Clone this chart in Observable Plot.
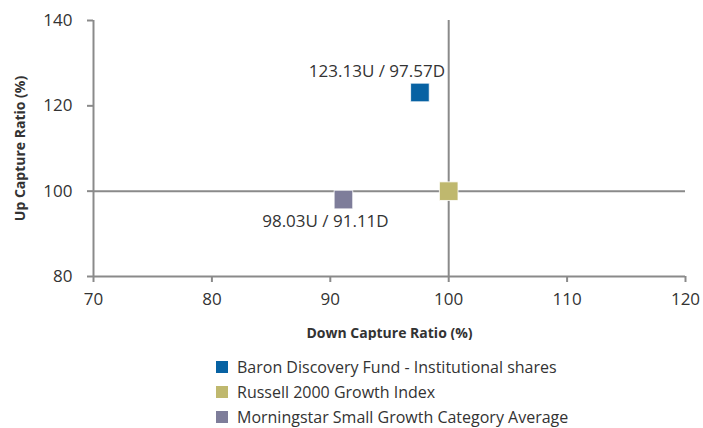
<!DOCTYPE html>
<html>
<head>
<meta charset="utf-8">
<script src="https://cdn.jsdelivr.net/npm/d3@7"></script>
<script src="https://cdn.jsdelivr.net/npm/@observablehq/plot@0.6"></script>
<style>
  body { margin: 0; background: #fff; font-family: "Open Sans", sans-serif; }
  #legend { margin-left: 216px; margin-top: 14px; font-size: 16px; color: #333; }
  #legend .row { display: flex; align-items: center; height: 25px; }
  #legend .sw { width: 12px; height: 12px; margin-right: 9px; }
</style>
</head>
<body>
<div id="chart"></div>
<div id="legend"></div>
<script>
const series = ["Baron Discovery Fund - Institutional shares", "Russell 2000 Growth Index", "Morningstar Small Growth Category Average"];
const downCapture = [97.57, 100, 91.11];
const upCapture = [123.13, 100, 98.03];
const colors = ["#0762a3", "#bfb86e", "#7e7d9a"];
const xTicks = [70, 80, 90, 100, 110, 120];
const yTicks = [80, 100, 120, 140];

const data = series.map((s, i) => ({series: s, x: downCapture[i], y: upCapture[i], color: colors[i]}));
const axisColor = "#8a8a8a";

const chart = Plot.plot({
  width: 703,
  height: 340,
  marginLeft: 93,
  marginRight: 18,
  marginTop: 20,
  marginBottom: 64,
  style: {fontFamily: "Open Sans, sans-serif", color: "#333", background: "#fff"},
  x: {domain: [70, 120]},
  y: {domain: [80, 140]},
  marks: [
    Plot.ruleX([70], {stroke: axisColor, strokeWidth: 2}),
    Plot.ruleY([80], {stroke: axisColor, strokeWidth: 2}),
    Plot.ruleX([100], {stroke: axisColor, strokeWidth: 2}),
    Plot.ruleY([100], {stroke: axisColor, strokeWidth: 2}),
    Plot.axisX({ticks: xTicks, tickSize: 6, stroke: axisColor, strokeWidth: 2, tickPadding: 10, fontSize: 17, tickFormat: d => d, label: null, fill: "#333"}),
    Plot.axisY({ticks: yTicks, tickSize: 6, stroke: axisColor, strokeWidth: 2, tickPadding: 15, fontSize: 17, tickFormat: d => d, label: null, fill: "#333"}),
    Plot.text(["Down Capture Ratio (%)"], {frameAnchor: "bottom", dy: 61, fontSize: 14, fontWeight: "bold", fill: "#333"}),
    Plot.text(["Up Capture Ratio (%)"], {frameAnchor: "left", dx: -73, rotate: -90, textAnchor: "middle", fontSize: 14, fontWeight: "bold", fill: "#333"}),
    Plot.dot(data, {x: "x", y: "y", symbol: "square", r: 10.5, fill: "color", stroke: "white", strokeWidth: 0.8}),
    Plot.text([data[0]], {x: "x", y: "y", text: d => `${d.y}U / ${d.x}D`, dx: -43, dy: -21, fontSize: 17, fill: "#333"}),
    Plot.text([data[2]], {x: "x", y: "y", text: d => `${d.y}U / ${d.x}D`, dx: -18, dy: 22, fontSize: 17, fill: "#333"})
  ]
});
document.getElementById("chart").append(chart);

const legend = document.getElementById("legend");
series.forEach((s, i) => {
  const row = document.createElement("div");
  row.className = "row";
  const sw = document.createElement("div");
  sw.className = "sw";
  sw.style.background = colors[i];
  const t = document.createElement("span");
  t.textContent = s;
  row.append(sw, t);
  legend.append(row);
});
</script>
</body>
</html>
